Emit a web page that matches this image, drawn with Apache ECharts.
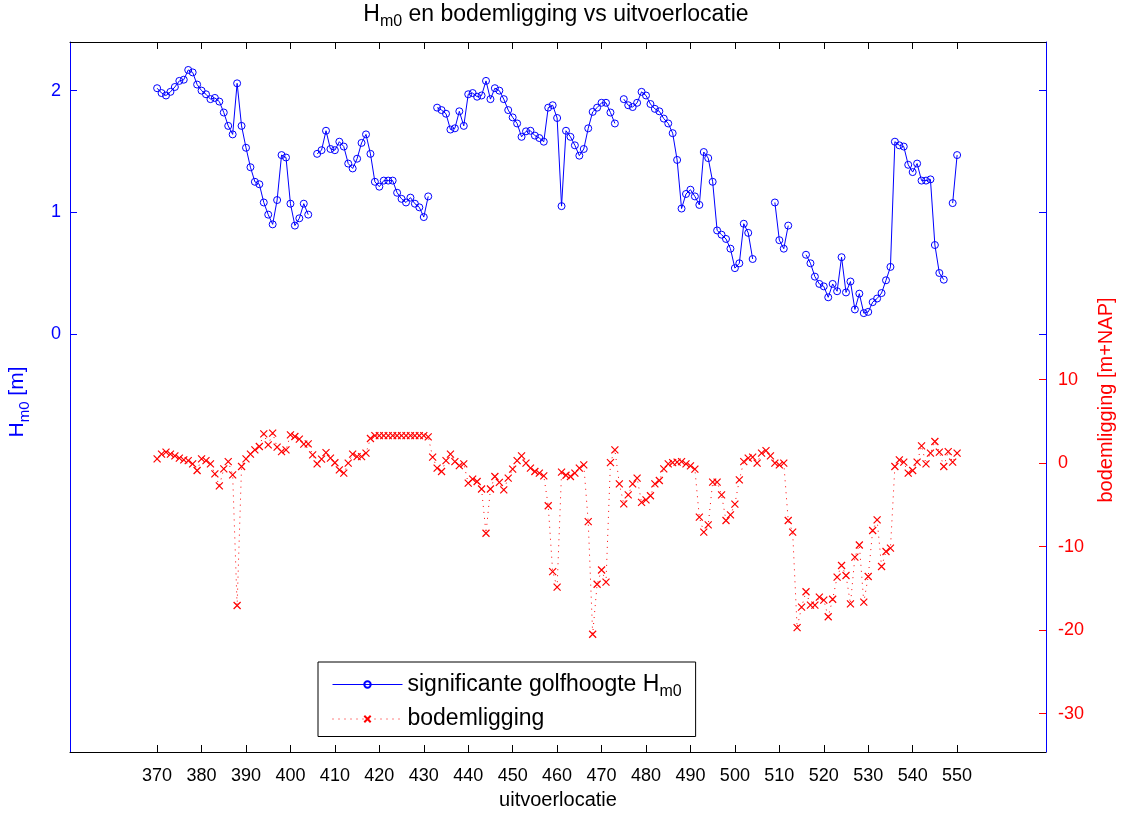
<!DOCTYPE html>
<html>
<head>
<meta charset="utf-8">
<title>Hm0 en bodemligging vs uitvoerlocatie</title>
<script src="https://cdn.jsdelivr.net/npm/echarts@6/dist/echarts.min.js"></script>
<style>
  html, body { margin: 0; padding: 0; background: #fff; }
  #chart { width: 1128px; height: 813px; }
</style>
</head>
<body>
<div id="chart"></div>
<script>
// Measurement locations (uitvoerlocatie), one value per location
const firstLocation = 370;
const lastLocation = 550;

// Significant wave height Hm0 [m], locations 370..550 (null = no measurement)
const hm0 = [
  2.02, 1.98, 1.96, 1.99, 2.03, 2.08, 2.09, 2.17, 2.15, 2.05,   // 370-379
  2.00, 1.97, 1.93, 1.94, 1.91, 1.82, 1.71, 1.64, 2.06, 1.71,   // 380-389
  1.53, 1.37, 1.25, 1.23, 1.08, 0.98, 0.90, 1.10, 1.47, 1.45,   // 390-399
  1.07, 0.89, 0.95, 1.07, 0.98, null, 1.48, 1.51, 1.67, 1.52,   // 400-409
  1.51, 1.58, 1.54, 1.40, 1.36, 1.44, 1.57, 1.64, 1.48, 1.25,   // 410-419
  1.21, 1.26, 1.26, 1.26, 1.16, 1.11, 1.08, 1.12, 1.07, 1.04,   // 420-429
  0.96, 1.13, null, 1.86, 1.84, 1.81, 1.68, 1.69, 1.83, 1.71,   // 430-439
  1.97, 1.98, 1.95, 1.96, 2.08, 1.93, 2.02, 2.00, 1.93, 1.84,   // 440-449
  1.78, 1.73, 1.62, 1.665, 1.67, 1.63, 1.61, 1.58, 1.86, 1.88,  // 450-459
  1.775, 1.05, 1.67, 1.62, 1.55, 1.465, 1.52, 1.69, 1.825, 1.86, // 460-469
  1.90, 1.90, 1.82, 1.73, null, 1.93, 1.88, 1.865, 1.90, 1.99,  // 470-479
  1.96, 1.89, 1.85, 1.83, 1.77, 1.73, 1.65, 1.43, 1.03, 1.15,   // 480-489
  1.185, 1.13, 1.06, 1.495, 1.445, 1.25, 0.85, 0.815, 0.78, 0.70, // 490-499
  0.54, 0.58, 0.905, 0.83, 0.615, null, null, null, null, 1.08, // 500-509
  0.77, 0.70, 0.89, null, null, null, 0.65, 0.58, 0.47, 0.41,   // 510-519
  0.39, 0.30, 0.41, 0.35, 0.63, 0.34, 0.43, 0.20, 0.33, 0.17,   // 520-529
  0.18, 0.26, 0.29, 0.335, 0.44, 0.55, 1.58, 1.55, 1.54, 1.39,  // 530-539
  1.33, 1.40, 1.26, 1.26, 1.27, 0.73, 0.50, 0.445, null, 1.075, // 540-549
  1.47                                                          // 550
];

// Bed level (bodemligging) [m+NAP], locations 370..550
const bodem = [
  0.51, 1.08, 1.32, 1.08, 0.87, 0.60, 0.40, 0.31, -0.08, -0.88,       // 370-379
  0.51, 0.31, -0.08, -1.28, -2.72, -0.68, 0.19, -1.40, -17.05, -0.40, // 380-389
  0.51, 1.08, 1.59, 1.99, 3.50, 2.19, 3.59, 1.92, 1.39, 1.59,         // 390-399
  3.39, 3.19, 2.87, 2.28, 2.31, 0.99, -0.08, 0.48, 1.27, 0.60,        // 400-409
  0.05, -0.80, -1.20, 0.00, 1.08, 0.79, 0.79, 1.20, 2.95, 3.30,       // 410-419
  3.30, 3.30, 3.30, 3.30, 3.30, 3.30, 3.30, 3.30, 3.30, 3.30,         // 420-429
  3.30, 3.15, 0.72, -0.60, -1.00, 0.31, 1.08, 0.19, -0.29, -0.08,     // 430-439
  -2.40, -1.92, -2.20, -3.10, -8.40, -3.10, -1.60, -2.30, -3.20, -1.80, // 440-449
  -0.72, 0.31, 0.87, 0.00, -0.60, -1.00, -1.20, -1.52, -5.10, -13.00, // 450-459
  -14.85, -1.08, -1.45, -1.60, -1.20, -0.60, -0.20, -7.00, -20.50, -14.50, // 460-469
  -12.80, -14.25, 0.07, 1.59, -2.48, -4.87, -3.80, -2.48, -1.80, -4.70, // 470-479
  -4.40, -3.90, -2.48, -2.08, -0.68, -0.08, 0.07, 0.12, 0.19, -0.08,  // 480-489
  -0.32, -0.72, -6.47, -8.26, -7.39, -2.28, -2.28, -3.80, -6.87, -6.20, // 490-499
  -4.90, -2.00, 0.19, 0.60, 0.72, 0.00, 1.20, 1.50, 0.87, 0.00,       // 500-509
  -0.20, 0.00, -6.87, -8.26, -19.70, -17.25, -15.40, -17.00, -17.00, -16.05, // 510-519
  -16.40, -18.40, -16.30, -13.65, -12.26, -13.46, -16.85, -11.26, -9.80, -16.65, // 520-529
  -13.58, -8.07, -6.80, -12.38, -10.58, -10.18, -0.40, 0.40, 0.12, -1.20, // 530-539
  -0.88, 0.12, 2.07, -0.08, 1.20, 2.59, 1.32, -0.40, 1.39, 0.12,      // 540-549
  1.20                                                                // 550
];

// Tick labels
const xTicks = [370, 380, 390, 400, 410, 420, 430, 440, 450, 460,
                470, 480, 490, 500, 510, 520, 530, 540, 550];
const hm0Ticks = [0, 1, 2];
const bodemTicks = [-30, -20, -10, 0, 10];

// Axis limits
const xRange = [350.4, 570];
const hm0Range = [-3.44, 2.40];
const bodemRange = [-34.6, 50.45];

const BLUE = '#0000ff';
const RED = '#ff0000';
const FONT = '"Liberation Sans", Arial, Helvetica, sans-serif';

function pairs(values) {
  const out = [];
  for (let i = 0; i < values.length; i++) {
    out.push([firstLocation + i, values[i]]);
  }
  return out;
}

// Rich-text styles for "H" with subscript "m0"
function subStyles(color, size) {
  return {
    t: { color: color, fontSize: size, lineHeight: 30, fontFamily: FONT },
    s: { color: color, fontSize: Math.round(size * 0.7), lineHeight: 15, verticalAlign: 'bottom', fontFamily: FONT }
  };
}

const chart = echarts.init(document.getElementById('chart'), null, { renderer: 'canvas' });

chart.setOption({
  animation: false,
  backgroundColor: '#ffffff',
  textStyle: { fontFamily: FONT },
  title: {
    text: '{t|H}{s|m0}{t| en bodemligging vs uitvoerlocatie}',
    left: 556,
    top: 0,
    padding: 0,
    textAlign: 'center',
    textStyle: {
      color: '#000',
      fontWeight: 'normal',
      fontSize: 23,
      rich: subStyles('#000', 23)
    }
  },
  grid: { left: 70, right: 82, top: 42, bottom: 61, containLabel: false, outerBoundsMode: 'none' },
  legend: {
    show: true,
    orient: 'vertical',
    left: 318,
    top: 662,
    padding: [11, 14, 6, 14],
    itemGap: 8,
    itemWidth: 70,
    itemHeight: 8,
    borderColor: '#000',
    borderWidth: 1,
    backgroundColor: '#fff',
    lineStyle: { width: 1 },
    data: ['hm0', 'bodem'],
    formatter: function (name) {
      return name === 'hm0'
        ? '{t|significante golfhoogte H}{s|m0}'
        : '{t|bodemligging}';
    },
    textStyle: {
      color: '#000',
      fontSize: 23,
      rich: subStyles('#000', 23)
    }
  },
  xAxis: [
    {
      type: 'value',
      position: 'bottom',
      min: xRange[0],
      max: xRange[1],
      axisLine: { show: true, onZero: false, lineStyle: { color: '#000', width: 1 } },
      axisTick: { show: true, inside: true, length: 7, customValues: xTicks, lineStyle: { color: '#000' } },
      axisLabel: { show: true, customValues: xTicks, color: '#000', fontSize: 18, margin: 15, fontFamily: FONT },
      splitLine: { show: false },
      name: 'uitvoerlocatie',
      nameLocation: 'middle',
      nameGap: 38,
      nameTextStyle: { color: '#000', fontSize: 20, fontFamily: FONT }
    },
    {
      type: 'value',
      position: 'top',
      min: xRange[0],
      max: xRange[1],
      axisLine: { show: true, onZero: false, lineStyle: { color: '#000', width: 1 } },
      axisTick: { show: true, inside: true, length: 7, customValues: xTicks, lineStyle: { color: '#000' } },
      axisLabel: { show: false },
      splitLine: { show: false }
    }
  ],
  yAxis: [
    {
      type: 'value',
      position: 'left',
      min: hm0Range[0],
      max: hm0Range[1],
      axisLine: { show: true, onZero: false, lineStyle: { color: BLUE, width: 1 } },
      axisTick: { show: true, inside: true, length: 7, customValues: hm0Ticks, lineStyle: { color: BLUE } },
      axisLabel: { show: true, customValues: hm0Ticks, color: BLUE, fontSize: 18, margin: 9, fontFamily: FONT },
      splitLine: { show: false },
      name: '{t|H}{s|m0}{t| [m]}',
      nameLocation: 'middle',
      nameRotate: 90,
      nameGap: 38,
      nameTextStyle: {
        color: BLUE,
        fontSize: 21,
        padding: [0, 10, 0, 0],
        rich: subStyles(BLUE, 21)
      }
    },
    {
      type: 'value',
      position: 'right',
      min: bodemRange[0],
      max: bodemRange[1],
      axisLine: { show: true, onZero: false, lineStyle: { color: BLUE, width: 1 } },
      axisTick: { show: true, inside: true, length: 7, customValues: bodemTicks, lineStyle: { color: RED } },
      axisLabel: { show: true, customValues: bodemTicks, color: RED, fontSize: 18, margin: 12, fontFamily: FONT },
      splitLine: { show: false },
      name: 'bodemligging [m+NAP]',
      nameLocation: 'middle',
      nameRotate: 90,
      nameGap: 50,
      nameTextStyle: { color: RED, fontSize: 20, fontFamily: FONT, padding: [0, 6, 0, 0] }
    },
    {
      // Hm0 ticks repeated on the right-hand border of the box
      type: 'value',
      position: 'right',
      min: hm0Range[0],
      max: hm0Range[1],
      axisLine: { show: false },
      axisTick: { show: true, inside: true, length: 7, customValues: hm0Ticks, lineStyle: { color: BLUE } },
      axisLabel: { show: false },
      splitLine: { show: false }
    }
  ],
  series: [
    {
      name: 'hm0',
      type: 'line',
      xAxisIndex: 0,
      yAxisIndex: 0,
      data: pairs(hm0),
      connectNulls: false,
      symbol: 'circle',
      symbolSize: 7,
      showSymbol: true,
      lineStyle: { color: BLUE, width: 1 },
      itemStyle: { color: 'rgba(0,0,0,0)', borderColor: BLUE, borderWidth: 1 },
      emphasis: { disabled: true },
      z: 3
    },
    {
      name: 'bodem',
      type: 'line',
      xAxisIndex: 0,
      yAxisIndex: 1,
      data: pairs(bodem),
      connectNulls: false,
      symbol: 'path://M0,0L10,10M10,0L0,10',
      symbolSize: 7,
      showSymbol: true,
      lineStyle: { color: RED, width: 1, type: [1, 5] },
      itemStyle: { color: 'rgba(0,0,0,0)', borderColor: RED, borderWidth: 1.2 },
      emphasis: { disabled: true },
      z: 2
    }
  ]
});
</script>
</body>
</html>
